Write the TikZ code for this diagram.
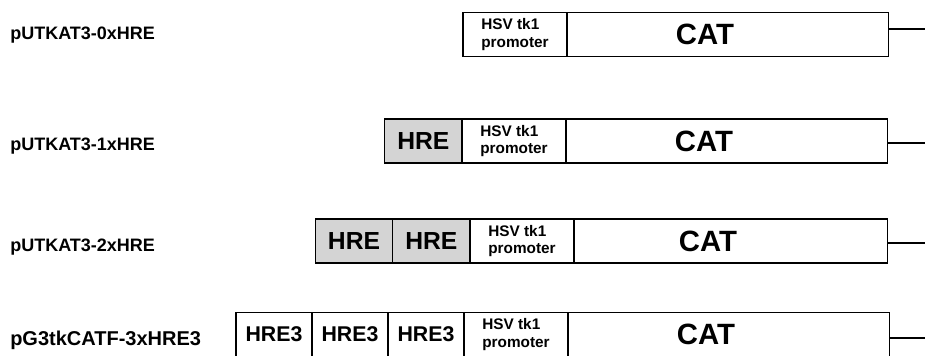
\documentclass[tikz,border=0pt]{standalone}
\usepackage{fontspec}
\setmainfont{Liberation Sans}
\usetikzlibrary{positioning}

\begin{document}
\begin{tikzpicture}[x=0.75pt, y=-0.75pt, node distance=0pt,
  part/.style={draw, line width=1pt, inner sep=0pt, outer sep=0pt, minimum height=33pt},
  prom/.style={part, minimum width=78pt, align=left, font=\bfseries\fontsize{11.5}{13}\selectfont},
  cat/.style={part, minimum width=241pt, font=\bfseries\fontsize{22}{24}\selectfont},
  hre/.style={part, minimum width=58pt, fill=black!17, font=\bfseries\fontsize{18.5}{20}\selectfont},
  hrethree/.style={part, minimum width=57pt, font=\bfseries\fontsize{16}{18}\selectfont},
  lbl/.style={anchor=west, inner sep=0pt, font=\bfseries\fontsize{13.5}{15}\selectfont}]
  \useasboundingbox (0,0) rectangle (925,356);

  % 0x HRE
  \node[lbl] (l1) at (10,35) {pUTKAT3-0xHRE};
  \node[prom, anchor=west] (p1) at (463,34.5) {HSV tk1\\promoter};
  \node[cat, right=of p1] (c1) {CAT\hspace*{34pt}};
  \coordinate (e1) at (925,29);
  \draw[line width=1pt] (c1.east |- e1) -- (e1);

  % 1x HRE
  \node[lbl] (l2) at (10,146) {pUTKAT3-1xHRE};
  \node[prom, anchor=west] (p2) at (462,141) {HSV tk1\\promoter};
  \node[cat, right=of p2] (c2) {CAT\hspace*{34pt}};
  \node[hre, left=of p2] (h2a) {HRE};
  \coordinate (e2) at (925,143);
  \draw[line width=1pt] (c2.east |- e2) -- (e2);

  % 2x HRE
  \node[lbl] (l3) at (10,247) {pUTKAT3-2xHRE};
  \node[prom, anchor=west] (p3) at (470,241) {HSV tk1\\promoter};
  \node[cat, right=of p3, minimum width=235pt] (c3) {CAT\hspace*{34pt}};
  \node[hre, left=of p3] (h3b) {HRE};
  \node[hre, left=of h3b] (h3a) {HRE};
  \coordinate (e3) at (925,243);
  \draw[line width=1pt] (c3.east |- e3) -- (e3);

  % 3x HRE3
  \node[lbl, font=\bfseries\fontsize{15}{17}\selectfont] (l4) at (10,340) {pG3tkCATF-3xHRE3};
  \node[prom, anchor=west] (p4) at (464,334.5) {HSV tk1\\promoter};
  \node[cat, right=of p4] (c4) {CAT\hspace*{34pt}};
  \node[hrethree, left=of p4] (h4c) {HRE3};
  \node[hrethree, left=of h4c] (h4b) {HRE3};
  \node[hrethree, left=of h4b] (h4a) {HRE3};
  \coordinate (e4) at (925,338);
  \draw[line width=1pt] (c4.east |- e4) -- (e4);
\end{tikzpicture}
\end{document}
